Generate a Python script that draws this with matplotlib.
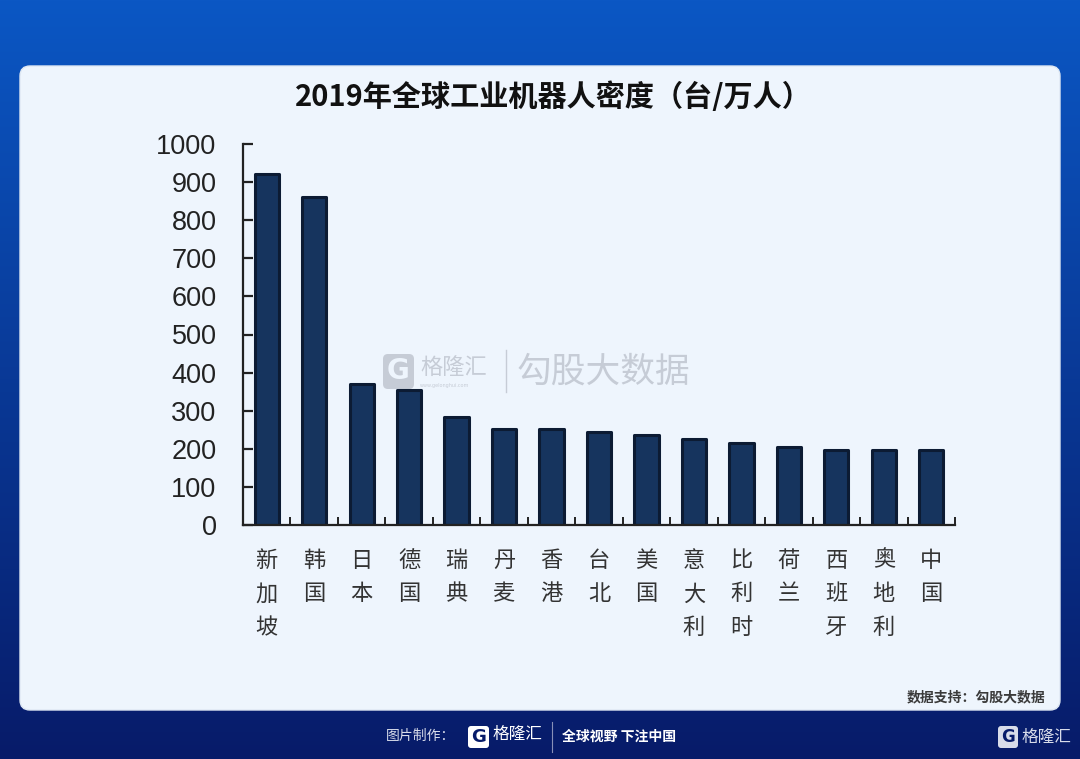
import matplotlib.pyplot as plt
import numpy as np
from matplotlib.patches import FancyBboxPatch

plt.rcParams['font.family'] = ['Noto Sans CJK SC', 'DejaVu Sans']

# data
regions = ['新加坡', '韩国', '日本', '德国', '瑞典', '丹麦', '香港', '台北',
           '美国', '意大利', '比利时', '荷兰', '西班牙', '奥地利', '中国']
density = [922, 860, 370, 355, 284, 253, 252, 243, 237, 227, 216, 206, 196, 196, 196]
yticks = list(range(0, 1001, 100))

title = '2019年全球工业机器人密度（台/万人）'
source = '数据支持：勾股大数据'

W, H = 1080, 759
fig = plt.figure(figsize=(W / 100, H / 100), dpi=100)

# background: blue gradient + light panel, drawn in pixel coords
bg = fig.add_axes([0, 0, 1, 1], zorder=0)
bg.set_xlim(0, W)
bg.set_ylim(H, 0)
bg.axis('off')
top = np.array([0x0B, 0x57, 0xC4]) / 255
bot = np.array([0x07, 0x1B, 0x69]) / 255
g = np.linspace(0, 1, 256)[:, None, None]
grad = top * (1 - g) + bot * g
grad = np.repeat(grad, 2, axis=1)
bg.imshow(grad, extent=[0, W, H, 0], aspect='auto', zorder=0)

panel = FancyBboxPatch((20, 66), 1040, 644, boxstyle='round,pad=0,rounding_size=10',
                       facecolor='#EEF5FD', edgecolor='#dfe8f3', lw=1, zorder=1)
bg.add_patch(panel)

bg.text(553, 97, title, ha='center', va='center', fontsize=21,
        fontweight='bold', color='#111111', zorder=2)
bg.text(1045, 697, source, ha='right', va='center', fontsize=10,
        fontweight='bold', color='#3a3a3a', zorder=2)

# watermark
wm = '#C6CCD6'
bg.add_patch(FancyBboxPatch((383, 354), 31, 35, boxstyle='round,pad=0,rounding_size=5',
                            facecolor=wm, edgecolor='none', zorder=2))
bg.text(398.5, 371, 'G', ha='center', va='center', fontsize=20, fontweight='bold',
        color='#EEF5FD', family='DejaVu Sans', zorder=3)
bg.text(420, 367, '格隆汇', ha='left', va='center', fontsize=16, color=wm, zorder=2)
bg.text(420, 385, 'www.gelonghui.com', ha='left', va='center', fontsize=3.5,
        color=wm, family='DejaVu Sans', zorder=2)
bg.plot([506, 506], [350, 392], color=wm, lw=1, zorder=2)
bg.text(517, 372, '勾股大数据', ha='left', va='center', fontsize=25, color=wm, zorder=2)

# footer
foot = '#D8DCEA'
bg.text(455, 736, '图片制作：', ha='right', va='center', fontsize=10, color=foot, zorder=2)
bg.add_patch(FancyBboxPatch((468, 726), 21, 22, boxstyle='round,pad=0,rounding_size=3',
                            facecolor='white', edgecolor='none', zorder=2))
bg.text(478.5, 737, 'G', ha='center', va='center', fontsize=13, fontweight='bold',
        color='#071B69', family='DejaVu Sans', zorder=3)
bg.text(493, 734, '格隆汇', ha='left', va='center', fontsize=12, color='white', zorder=2)
bg.plot([552, 552], [722, 752], color='#8890b8', lw=0.8, zorder=2)
bg.text(562, 737, '全球视野 下注中国', ha='left', va='center', fontsize=10,
        fontweight='bold', color='white', zorder=2)
bg.add_patch(FancyBboxPatch((998, 726), 20, 22, boxstyle='round,pad=0,rounding_size=3',
                            facecolor=foot, edgecolor='none', zorder=2))
bg.text(1008, 737, 'G', ha='center', va='center', fontsize=12, fontweight='bold',
        color='#071B69', family='DejaVu Sans', zorder=3)
bg.text(1022, 737, '格隆汇', ha='left', va='center', fontsize=12, color=foot, zorder=2)

# main chart
ax = fig.add_axes([243 / W, 1 - 525 / H, (955 - 243) / W, (525 - 144) / H], zorder=2)
ax.patch.set_alpha(0)
x = np.arange(len(regions))
bars = ax.bar(x, density, width=0.51, color='#16345E', edgecolor='#0c1b33', linewidth=2.2)
for b in bars:
    b.set_joinstyle('round')

ax.set_xlim(-0.5, len(regions) - 0.5)
ax.set_ylim(0, 1000)
for s in ['top', 'right']:
    ax.spines[s].set_visible(False)
for s in ['left', 'bottom']:
    ax.spines[s].set_linewidth(1.6)
    ax.spines[s].set_color('#222222')

ax.set_yticks(yticks)
ax.set_yticklabels([str(v) for v in yticks], family='Liberation Sans')
ax.tick_params(axis='y', direction='in', length=7, width=1.6, pad=19,
               labelsize=19.5, labelcolor='#222222', color='#222222')

ax.set_xticks(x)
ax.set_xticklabels(['\n'.join(r) for r in regions], linespacing=1.6)
ax.tick_params(axis='x', which='major', length=0, pad=17, labelsize=16,
               labelcolor='#333333')
ax.set_xticks(np.arange(len(regions)) + 0.5, minor=True)
ax.tick_params(axis='x', which='minor', direction='in', length=5.5, width=1.4,
               color='#222222')
for lbl in ax.get_xticklabels():
    lbl.set_verticalalignment('top')

fig.savefig('out.png', dpi=100)
